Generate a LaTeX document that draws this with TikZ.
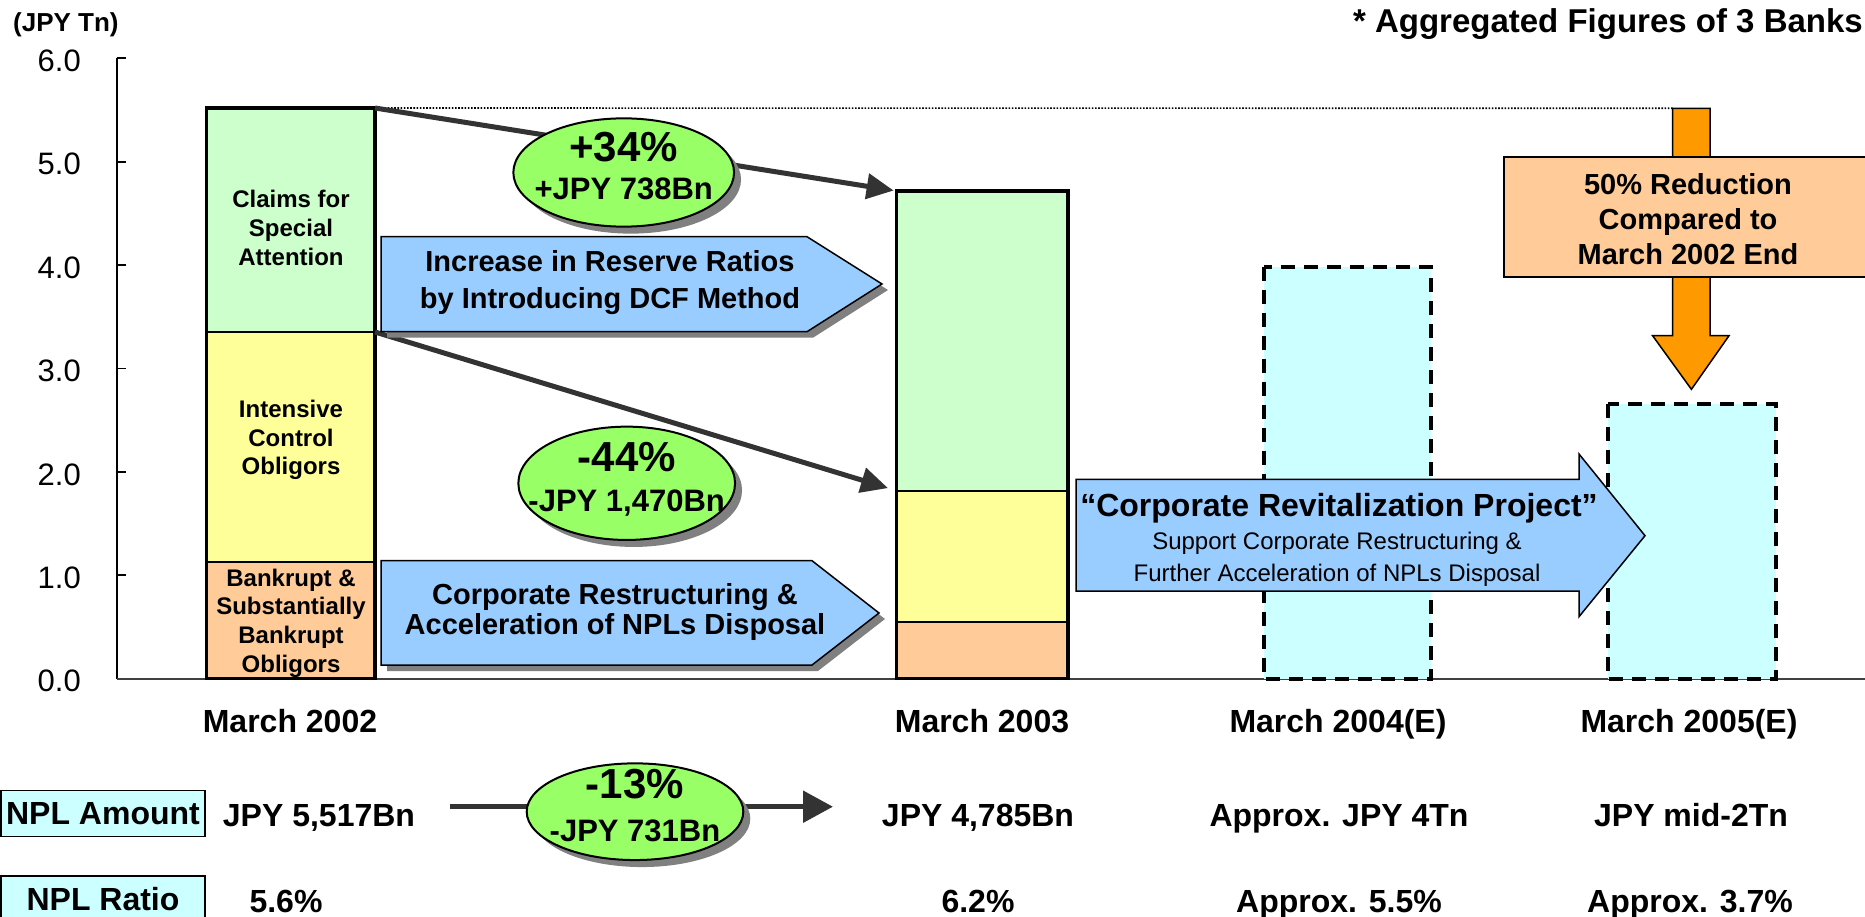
\documentclass[tikz,border=0pt]{standalone}
\usepackage{fontspec}
\setmainfont{Liberation Sans}
\usetikzlibrary{arrows.meta,shapes.geometric,shadows}

\definecolor{segGreen}{HTML}{CCFFCC}
\definecolor{segYellow}{HTML}{FFFF99}
\definecolor{segPeach}{HTML}{FFCC99}
\definecolor{arrowBlue}{HTML}{99CCFF}
\definecolor{lightCyan}{HTML}{CCFFFF}
\definecolor{ovalGreen}{HTML}{99FF66}
\definecolor{deepOrange}{HTML}{FF9900}
\definecolor{connGray}{HTML}{333333}
\definecolor{shadowGray}{HTML}{808080}

\tikzset{
  seg/.style={draw=black, line width=2pt, inner sep=0pt, outer sep=0pt, anchor=north west},
  barframe/.style={draw=black, line width=3.5pt},
  planbar/.style={draw=black, fill=lightCyan, line width=4pt, dash pattern=on 14pt off 9pt},
  seglabel/.style={font=\fontsize{24}{28.7}\selectfont\bfseries, align=center, inner sep=0pt},
  conn/.style={draw=connGray, line width=5pt, -{Triangle[length=27pt,width=25pt]}},
  oval/.style={ellipse, draw=black, line width=2pt, fill=ovalGreen, inner sep=0pt,
    drop shadow={shadow xshift=7pt, shadow yshift=-7pt, fill=shadowGray, opacity=1}},
  bigpct/.style={font=\fontsize{42}{50}\selectfont\bfseries, inner sep=0pt, text height=30pt, text depth=0pt},
  amount/.style={font=\fontsize{31}{37}\selectfont\bfseries, inner sep=0pt, text height=22.3pt, text depth=0pt},
  bluearrow/.style={fill=arrowBlue, draw=black, line width=1.5pt,
    drop shadow={shadow xshift=6pt, shadow yshift=-6pt, fill=shadowGray, opacity=1}},
  arrowtext/.style={font=\fontsize{29}{37}\selectfont\bfseries, align=center, inner sep=0pt},
  val/.style={font=\fontsize{32}{38}\selectfont\bfseries, inner sep=0pt, text height=23pt, text depth=0pt},
  ticklabel/.style={font=\fontsize{31}{37}\selectfont, anchor=east, inner sep=0pt, text height=22.3pt, text depth=0pt},
  nplbox/.style={draw=black, line width=1.5pt, fill=lightCyan, minimum width=204pt, minimum height=46pt,
    inner sep=0pt, font=\fontsize{32}{38}\selectfont\bfseries},
}

\begin{document}
\begin{tikzpicture}[x=1pt, y=-1pt]
\useasboundingbox (0,0) rectangle (1865,917);
\clip (0,0) rectangle (1865,917);

% vertical axis with ticks and labels
\draw[line width=1.8pt] (116.7,58.3) -- (116.7,678.7);
\foreach \k/\t in {0/0.0,1/1.0,2/2.0,3/3.0,4/4.0,5/5.0,6/6.0}{
  \draw[line width=1.8pt] (116.7,{678.7-103.4*\k}) -- ++(9.3,0);
  \node[ticklabel] (tick\k) at (81,{680.7-103.4*\k}) {\t};
}
\node[font=\fontsize{26}{31}\selectfont\bfseries, anchor=west, inner sep=0pt] (unit) at (13,25) {(JPY Tn)};
\node[font=\fontsize{33}{39}\selectfont\bfseries, anchor=east, inner sep=0pt, text height=23.6pt, text depth=0pt]
  (note) at (1863,21) {* Aggregated Figures of 3 Banks};

% baseline
\draw[line width=2pt, draw=black!75] (116.7,678.7) -- (1865,678.7);

% March 2002 bar
\node[seg, fill=segGreen,  minimum width=168.3pt, minimum height=224pt]   (g1) at (206.7,108) {};
\node[seg, fill=segYellow, minimum width=168.3pt, minimum height=230.3pt] (y1) at (206.7,332) {};
\node[seg, fill=segPeach,  minimum width=168.3pt, minimum height=116.4pt] (p1) at (206.7,562.3) {};
\draw[barframe] (g1.north west) rectangle (p1.south east);

% March 2003 bar
\node[seg, fill=segGreen,  minimum width=171.4pt, minimum height=299.7pt] (g2) at (896.6,191) {};
\node[seg, fill=segYellow, minimum width=171.4pt, minimum height=131.6pt] (y2) at (896.6,490.7) {};
\node[seg, fill=segPeach,  minimum width=171.4pt, minimum height=56.4pt]  (p2) at (896.6,622.3) {};
\draw[barframe] (g2.north west) rectangle (p2.south east);

% planned bars
\draw[planbar] (1264,266.7) rectangle (1431,678.7);
\draw[planbar] (1607.7,404.4) rectangle (1776,678.7);

% segment labels
\node[seglabel] (t1g) at (291,228) {Claims for\\Special\\Attention};
\node[seglabel] (t1y) at (291,440) {Intensive\\Control\\Obligors};
\node[seglabel] (t1p) at (291,623) {Bankrupt \&\\Substantially\\Bankrupt\\Obligors};

% dotted reference level
\coordinate (shaftTop) at (1672.7,108.3);
\draw[line width=1.6pt, dash pattern=on 1.6pt off 1.6pt, draw=black] (g1.north east) -- (shaftTop);

% change connectors
\draw[conn, shorten >=3pt] (g1.north east) -- (g2.north west);
\draw[conn, shorten >=9pt] (g1.south east) -- (g2.south west);

% change ovals
\node[oval, minimum width=220.7pt, minimum height=108.3pt] (o1) at (623.7,172.5) {};
\node[bigpct] (o1a) at (623.7,146.7) {+34\%};
\node[amount] (o1b) at (623.7,188.3) {+JPY 738Bn};

\node[oval, minimum width=216.7pt, minimum height=113.3pt] (o2) at (626.7,483.3) {};
\node[bigpct] (o2a) at (626.7,456.7) {-44\%};
\node[amount] (o2b) at (626.7,500) {-JPY 1,470Bn};

% measure arrows
\filldraw[bluearrow] (381,236.7) -- (807,236.7) -- (882,284) -- (807,331.7) -- (381,331.7) -- cycle;
\node[arrowtext] (r1) at (610,283) {Increase in Reserve Ratios\\by Introducing DCF Method};

\filldraw[bluearrow] (381,560.7) -- (812,560.7) -- (879,613) -- (812,665) -- (381,665) -- cycle;
\node[arrowtext, font=\fontsize{29}{30}\selectfont\bfseries] (r2) at (615,612) {Corporate Restructuring \&\\Acceleration of NPLs Disposal};

\filldraw[fill=arrowBlue, draw=black, line width=1.5pt] (1076,479.3) -- (1579,479.3) -- (1579,454) -- (1645,535.7)
  -- (1579,616.7) -- (1579,591) -- (1076,591) -- cycle;
\node[font=\fontsize{32}{38}\selectfont\bfseries, inner sep=0pt, text height=23pt, text depth=0pt]
  (crp) at (1339,505) {``Corporate Revitalization Project''};
\node[font=\fontsize{24}{32}\selectfont, align=center, inner sep=0pt]
  (crpsub) at (1337,559) {Support Corporate Restructuring \&\\Further Acceleration of NPLs Disposal};

% reduction target arrow
\filldraw[fill=deepOrange, draw=black, line width=1.5pt] (shaftTop) -- (1710,108.3) -- (1710,335.7) -- (1729,335.7)
  -- (1691.4,389.3) -- (1652.6,335.7) -- (1672.7,335.7) -- cycle;
\node[draw=black, line width=2pt, fill=segPeach, minimum width=374pt, minimum height=120pt, inner sep=0pt]
  (goalbox) at (1691.4,216.7) {};
\node[font=\fontsize{29}{35}\selectfont\bfseries, align=center, inner sep=0pt]
  (goaltext) at (1688,219) {50\% Reduction\\Compared to\\March 2002 End};

% period labels
\node[val] (m02) at (290,721) {March 2002};
\node[val] (m03) at (982,721) {March 2003};
\node[val] (m04) at (1338,721) {March 2004(E)};
\node[val] (m05) at (1689,721) {March 2005(E)};

% NPL amount row
\node[nplbox] (nplA) at (103,813.7) {NPL Amount};
\node[val] (amt1) at (319,815) {JPY 5,517Bn};
\node[val] (amt2) at (978,815) {JPY 4,785Bn};
\node[val] (amt3) at (1339,815) {Approx. JPY 4Tn};
\node[val] (amt4) at (1691,815) {JPY mid-2Tn};
\coordinate (na) at (450,806.7);
\coordinate (nb) at (833,806.7);
\draw[draw=connGray, line width=5.5pt, -{Triangle[length=30pt,width=31pt]}] (na) -- (nb);
\node[oval, minimum width=216.6pt, minimum height=96.7pt] (o3) at (635,811.7) {};
\node[bigpct] (o3a) at (635,783.3) {-13\%};
\node[amount] (o3b) at (635,830) {-JPY 731Bn};

% NPL ratio row
\node[nplbox, text height=23pt, text depth=0pt] (nplR) at (103,899) {NPL Ratio};
\node[val] (rat1) at (286,901) {5.6\%};
\node[val] (rat2) at (978,901) {6.2\%};
\node[val] (rat3) at (1339,901) {Approx. 5.5\%};
\node[val] (rat4) at (1690,901) {Approx. 3.7\%};
\end{tikzpicture}
\end{document}
